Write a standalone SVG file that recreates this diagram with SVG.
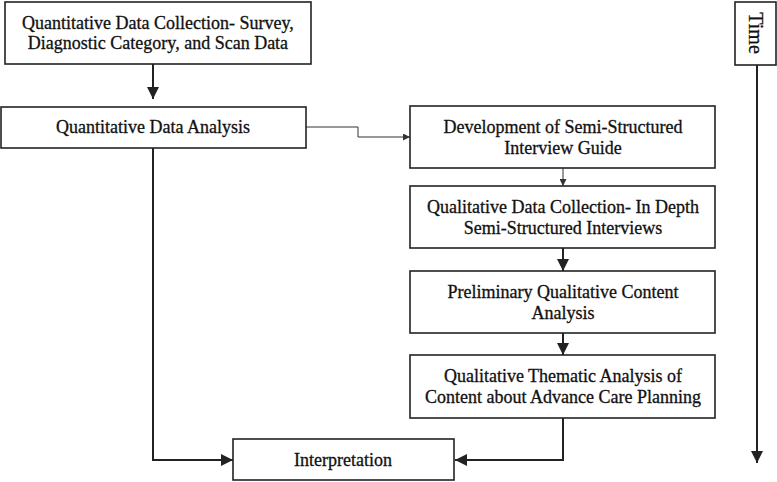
<svg xmlns="http://www.w3.org/2000/svg" width="777" height="482" viewBox="0 0 777 482">
<style>
.box{fill:#fff;stroke:#222;stroke-width:1.6}
.t{font-family:"Liberation Serif","Times New Roman",serif;font-size:18px;fill:#111;stroke:#111;stroke-width:0.3;text-anchor:middle}
.c{fill:none;stroke:#222;stroke-width:2}
.thin{fill:none;stroke:#333;stroke-width:1}
</style>
<defs>
<marker id="ah" viewBox="0 0 10 10" refX="10" refY="5" markerWidth="6" markerHeight="6" markerUnits="strokeWidth" orient="auto"><path d="M0,0 L10,5 L0,10 Z" fill="#222"/></marker>
<marker id="ahs" viewBox="0 0 10 10" refX="10" refY="5" markerWidth="7" markerHeight="7" markerUnits="strokeWidth" orient="auto"><path d="M0,0 L10,5 L0,10 Z" fill="#333"/></marker>
</defs>
<g id="connectors">
<path class="c" d="M153,64 V99" marker-end="url(#ah)"/>
<path class="thin" d="M306,127 H358 V137 H410" marker-end="url(#ahs)"/>
<path class="thin" d="M563,168 V186" marker-end="url(#ahs)"/>
<path class="c" d="M563,248 V271" marker-end="url(#ah)"/>
<path class="c" d="M563,333 V355" marker-end="url(#ah)"/>
<path class="c" d="M563,418 V460 H455" marker-end="url(#ah)"/>
<path class="c" d="M153,148 V460 H233" marker-end="url(#ah)"/>
<path class="c" d="M757,65 V463" marker-end="url(#ah)"/>
</g>
<g id="n1"><rect class="box" x="5" y="2" width="306" height="62"/><text class="t" x="158" y="29">Quantitative Data Collection- Survey,</text><text class="t" x="158" y="49">Diagnostic Category, and Scan Data</text></g>
<g id="n2"><rect class="box" x="1" y="107" width="305" height="41"/><text class="t" x="153" y="133">Quantitative Data Analysis</text></g>
<g id="n3"><rect class="box" x="410" y="106" width="305" height="62"/><text class="t" x="563" y="133">Development of Semi-Structured</text><text class="t" x="563" y="154">Interview Guide</text></g>
<g id="n4"><rect class="box" x="410" y="186" width="305" height="62"/><text class="t" x="563" y="213">Qualitative Data Collection- In Depth</text><text class="t" x="563" y="234">Semi-Structured Interviews</text></g>
<g id="n5"><rect class="box" x="410" y="271" width="305" height="62"/><text class="t" x="563" y="298">Preliminary Qualitative Content</text><text class="t" x="563" y="319">Analysis</text></g>
<g id="n6"><rect class="box" x="410" y="355" width="305" height="63"/><text class="t" x="563" y="382">Qualitative Thematic Analysis of</text><text class="t" x="563" y="403">Content about Advance Care Planning</text></g>
<g id="n7"><rect class="box" x="233" y="439" width="221" height="41"/><text class="t" x="343" y="466">Interpretation</text></g>
<g id="time"><rect class="box" x="735" y="2" width="41" height="63"/><text class="t" style="font-size:20px" transform="translate(749,33) rotate(90)" x="0" y="0">Time</text></g>
</svg>
